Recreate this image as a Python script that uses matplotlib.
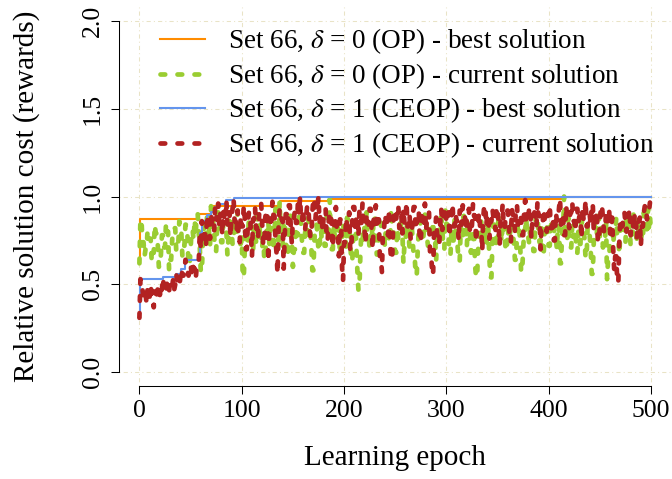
import numpy as np
import matplotlib
matplotlib.use('Agg')
from matplotlib import pyplot as plt

plt.rcParams['font.family'] = ['Liberation Serif', 'DejaVu Serif']
plt.rcParams['mathtext.fontset'] = 'stix'

# best solution so far: epoch where a new best was found and its value
op_best_epochs = [0, 1, 56, 70, 137, 186, 415, 500]
op_best_values = [0.62, 0.87, 0.90, 0.945, 0.975, 0.985, 1.0, 1.0]
ceop_best_epochs = [0, 1, 23, 36, 41, 45, 59, 61, 66, 70, 74, 77, 85, 92, 157, 500]
ceop_best_values = [0.31, 0.53, 0.54, 0.56, 0.59, 0.64, 0.79, 0.86, 0.895, 0.91,
                    0.94, 0.96, 0.98, 0.99, 1.0, 1.0]

# current solution per epoch (0..500), Set 66, delta = 0 (OP), 20 epochs per row
op_current = [
    0.62, 0.87, 0.87, 0.74, 0.74, 0.66, 0.70, 0.70, 0.81, 0.76, 0.76, 0.76, 0.63, 0.68, 0.68, 0.84, 0.79, 0.79, 0.72, 0.60,
    0.60, 0.67, 0.78, 0.78, 0.71, 0.71, 0.85, 0.80, 0.80, 0.58, 0.64, 0.64, 0.75, 0.82, 0.82, 0.82, 0.69, 0.73, 0.73, 0.86,
    0.79, 0.79, 0.66, 0.72, 0.72, 0.84, 0.84, 0.77, 0.61, 0.61, 0.70, 0.81, 0.81, 0.75, 0.87, 0.78, 0.90, 0.90, 0.79, 0.71,
    0.57, 0.57, 0.74, 0.83, 0.83, 0.76, 0.88, 0.88, 0.80, 0.72, 0.945, 0.86, 0.86, 0.78, 0.69, 0.69, 0.83, 0.91, 0.91, 0.79,
    0.74, 0.74, 0.85, 0.80, 0.80, 0.80, 0.67, 0.76, 0.89, 0.89, 0.82, 0.73, 0.73, 0.87, 0.78, 0.78, 0.92, 0.84, 0.84, 0.70,
    0.77, 0.54, 0.54, 0.71, 0.81, 0.81, 0.75, 0.88, 0.88, 0.79, 0.79, 0.68, 0.83, 0.83, 0.74, 0.90, 0.76, 0.76, 0.85, 0.71,
    0.71, 0.80, 0.64, 0.64, 0.77, 0.86, 0.86, 0.73, 0.82, 0.82, 0.82, 0.69, 0.78, 0.93, 0.84, 0.84, 0.75, 0.975, 0.80, 0.80,
    0.72, 0.86, 0.86, 0.77, 0.66, 0.66, 0.81, 0.89, 0.89, 0.74, 0.60, 0.70, 0.70, 0.83, 0.78, 0.78, 0.91, 0.85, 0.85, 0.73,
    0.68, 0.68, 0.80, 0.76, 0.76, 0.88, 0.82, 0.82, 0.71, 0.58, 0.58, 0.75, 0.84, 0.84, 0.79, 0.69, 0.69, 0.86, 0.77, 0.77,
    0.83, 0.72, 0.72, 0.90, 0.80, 0.80, 0.985, 0.78, 0.70, 0.70, 0.84, 0.76, 0.76, 0.87, 0.81, 0.81, 0.66, 0.74, 0.74, 0.85,
    0.79, 0.79, 0.71, 0.88, 0.83, 0.83, 0.75, 0.63, 0.63, 0.77, 0.86, 0.86, 0.72, 0.58, 0.47, 0.47, 0.69, 0.80, 0.80, 0.74,
    0.84, 0.84, 0.91, 0.78, 0.78, 0.70, 0.82, 0.82, 0.76, 0.89, 0.89, 0.73, 0.67, 0.67, 0.81, 0.85, 0.85, 0.75, 0.79, 0.79,
    0.71, 0.87, 0.87, 0.80, 0.74, 0.74, 0.93, 0.83, 0.83, 0.77, 0.68, 0.68, 0.82, 0.76, 0.76, 0.88, 0.79, 0.79, 0.62, 0.73,
    0.73, 0.85, 0.78, 0.78, 0.71, 0.84, 0.84, 0.76, 0.66, 0.66, 0.55, 0.55, 0.70, 0.81, 0.81, 0.87, 0.74, 0.74, 0.80, 0.90,
    0.90, 0.77, 0.72, 0.72, 0.83, 0.79, 0.79, 0.86, 0.75, 0.75, 0.64, 0.80, 0.80, 0.73, 0.88, 0.88, 0.82, 0.70, 0.70, 0.92,
    0.84, 0.84, 0.77, 0.67, 0.67, 0.81, 0.75, 0.75, 0.87, 0.79, 0.79, 0.71, 0.63, 0.63, 0.83, 0.76, 0.76, 0.89, 0.80, 0.80,
    0.72, 0.85, 0.85, 0.78, 0.68, 0.74, 0.74, 0.82, 0.61, 0.54, 0.54, 0.70, 0.79, 0.79, 0.86, 0.76, 0.76, 0.83, 0.73, 0.73,
    0.88, 0.81, 0.65, 0.54, 0.54, 0.75, 0.84, 0.84, 0.78, 0.71, 0.71, 0.91, 0.80, 0.80, 0.74, 0.86, 0.86, 0.77, 0.69, 0.69,
    0.82, 0.76, 0.76, 0.87, 0.80, 0.80, 0.72, 0.64, 0.64, 0.79, 0.85, 0.85, 0.74, 0.57, 0.57, 0.70, 0.81, 0.81, 0.88, 0.77,
    0.77, 0.73, 0.84, 0.84, 0.79, 0.69, 0.69, 0.86, 0.90, 0.90, 0.78, 0.74, 0.74, 0.82, 0.66, 0.66, 0.80, 0.85, 0.85, 0.75,
    0.72, 0.72, 0.87, 0.79, 0.79, 0.83, 0.76, 0.76, 0.70, 0.84, 0.84, 0.62, 0.62, 0.78, 0.81, 1.0, 0.82, 0.75, 0.75, 0.88,
    0.79, 0.71, 0.71, 0.84, 0.77, 0.77, 0.86, 0.68, 0.68, 0.80, 0.73, 0.73, 0.90, 0.81, 0.81, 0.76, 0.65, 0.65, 0.83, 0.78,
    0.78, 0.70, 0.56, 0.56, 0.74, 0.85, 0.85, 0.79, 0.89, 0.89, 0.76, 0.82, 0.82, 0.71, 0.75, 0.75, 0.86, 0.53, 0.64, 0.64,
    0.77, 0.84, 0.84, 0.73, 0.80, 0.80, 0.88, 0.76, 0.76, 0.67, 0.82, 0.82, 0.78, 0.87, 0.87, 0.74, 0.90, 0.81, 0.81, 0.85,
    0.72, 0.79, 0.79, 0.92, 0.84, 0.84, 0.76, 0.88, 0.80, 0.80, 0.83, 0.75, 0.75, 0.91, 0.86, 0.86, 0.78, 0.93, 0.82, 0.88,
    0.79,
]

# current solution per epoch (0..500), Set 66, delta = 1 (CEOP), 20 epochs per row
ceop_current = [
    0.31, 0.53, 0.47, 0.47, 0.42, 0.45, 0.45, 0.39, 0.48, 0.48, 0.43, 0.50, 0.44, 0.44, 0.37, 0.46, 0.46, 0.41, 0.49, 0.49,
    0.44, 0.50, 0.47, 0.54, 0.48, 0.48, 0.45, 0.51, 0.51, 0.46, 0.52, 0.49, 0.49, 0.53, 0.47, 0.50, 0.56, 0.52, 0.52, 0.49,
    0.54, 0.59, 0.55, 0.55, 0.57, 0.64, 0.58, 0.58, 0.55, 0.61, 0.61, 0.57, 0.62, 0.59, 0.59, 0.53, 0.60, 0.63, 0.63, 0.79,
    0.70, 0.86, 0.77, 0.77, 0.82, 0.71, 0.895, 0.84, 0.84, 0.76, 0.91, 0.85, 0.80, 0.80, 0.94, 0.87, 0.87, 0.96, 0.83, 0.90,
    0.90, 0.78, 0.92, 0.86, 0.86, 0.98, 0.84, 0.84, 0.91, 0.77, 0.88, 0.93, 0.99, 0.86, 0.86, 0.80, 0.92, 0.74, 0.74, 0.89,
    0.83, 0.83, 0.95, 0.88, 0.70, 0.70, 0.85, 0.91, 0.91, 0.79, 0.66, 0.87, 0.87, 0.94, 0.82, 0.82, 0.76, 0.90, 0.96, 0.96,
    0.84, 0.72, 0.72, 0.88, 0.92, 0.92, 0.63, 0.80, 0.86, 0.86, 0.97, 0.89, 0.89, 0.75, 0.68, 0.56, 0.83, 0.93, 0.93, 0.87,
    0.87, 0.59, 0.78, 0.90, 0.90, 0.84, 0.95, 0.95, 0.81, 0.73, 0.88, 0.88, 0.92, 0.85, 0.85, 0.98, 0.90, 1.0, 0.86, 0.86,
    0.93, 0.81, 0.81, 0.89, 0.95, 0.95, 0.84, 0.77, 0.77, 0.91, 0.99, 0.99, 0.87, 0.94, 0.94, 1.00, 0.85, 0.90, 0.90, 0.80,
    0.88, 0.88, 0.93, 0.75, 0.75, 0.86, 0.91, 0.91, 0.82, 0.71, 0.84, 0.84, 0.94, 0.79, 0.79, 0.66, 0.87, 0.87, 0.60, 0.52,
    0.74, 0.74, 0.88, 0.83, 0.83, 0.91, 0.69, 0.69, 0.86, 0.94, 0.94, 0.80, 0.89, 0.89, 0.77, 0.92, 0.85, 0.85, 0.96, 0.81,
    0.81, 0.73, 0.90, 0.90, 0.84, 0.93, 0.93, 0.79, 0.70, 0.88, 0.88, 0.95, 0.82, 0.82, 0.87, 0.65, 0.65, 0.57, 0.81, 0.81,
    0.90, 0.86, 0.86, 0.78, 0.93, 0.72, 0.64, 0.64, 0.84, 0.91, 0.91, 0.87, 0.95, 0.95, 0.82, 0.89, 0.89, 0.79, 0.93, 0.85,
    0.85, 0.97, 0.83, 0.83, 0.90, 0.76, 0.76, 0.88, 0.94, 0.94, 0.81, 0.86, 0.86, 0.92, 0.74, 0.74, 0.89, 0.84, 0.84, 0.96,
    0.80, 0.87, 0.87, 0.91, 0.68, 0.68, 0.58, 0.55, 0.82, 0.82, 0.88, 0.78, 0.78, 0.73, 0.85, 0.93, 0.81, 0.89, 0.89, 0.94,
    0.85, 0.85, 0.91, 0.77, 0.88, 0.88, 0.96, 0.83, 0.83, 0.90, 0.86, 0.86, 0.75, 0.92, 0.92, 0.84, 0.95, 0.89, 0.89, 0.81,
    0.87, 0.87, 0.93, 0.79, 0.79, 0.84, 0.96, 0.89, 0.89, 0.74, 0.86, 0.86, 0.91, 0.82, 0.82, 0.69, 0.88, 0.95, 0.95, 0.83,
    0.90, 0.90, 0.76, 0.86, 0.86, 0.93, 0.88, 0.88, 0.81, 0.94, 0.94, 0.84, 0.72, 0.87, 0.87, 0.96, 0.82, 0.82, 0.89, 0.92,
    0.92, 0.85, 0.74, 0.74, 0.93, 0.89, 0.89, 0.80, 0.95, 0.95, 0.84, 0.90, 0.90, 0.87, 0.78, 0.78, 0.92, 0.98, 0.85, 0.85,
    0.88, 0.94, 0.94, 0.76, 0.86, 0.86, 0.91, 0.83, 0.83, 0.97, 0.89, 0.89, 0.70, 0.84, 0.84, 0.93, 0.87, 0.87, 0.80, 0.90,
    0.90, 0.95, 0.82, 0.82, 0.88, 0.75, 0.75, 0.91, 0.86, 0.86, 0.93, 0.99, 0.84, 0.84, 0.89, 0.78, 0.78, 0.95, 0.88, 0.88,
    0.82, 0.91, 0.91, 0.97, 0.86, 0.86, 0.80, 0.93, 0.93, 0.85, 0.89, 0.89, 0.76, 0.94, 0.87, 0.87, 0.98, 0.83, 0.83, 0.90,
    0.90, 0.84, 0.96, 0.96, 0.81, 0.88, 0.88, 0.92, 0.74, 0.74, 0.85, 0.95, 0.95, 0.87, 0.80, 0.80, 0.91, 0.86, 0.86, 0.93,
    0.79, 0.79, 0.88, 0.70, 0.58, 0.66, 0.66, 0.51, 0.51, 0.75, 0.87, 0.87, 0.83, 0.91, 0.91, 0.85, 0.80, 0.89, 0.89, 0.93,
    0.78, 0.86, 0.86, 0.81, 0.90, 0.90, 0.76, 0.84, 0.84, 0.88, 0.72, 0.83, 0.83, 0.91, 0.95, 0.95, 0.87, 0.92, 0.92, 0.97,
    0.98,
]

labels = [r'Set 66, $\delta$ = 0 (OP) - best solution',
          r'Set 66, $\delta$ = 0 (OP) - current solution',
          r'Set 66, $\delta$ = 1 (CEOP) - best solution',
          r'Set 66, $\delta$ = 1 (CEOP) - current solution']
colors = ['#FF8C00', '#9ACD32', '#6495ED', '#B22222']

epochs = np.arange(len(op_current))
fs_tick = 18.5
fs_lab = 21
fs_leg = 19.5

fig = plt.figure(figsize=(6.72, 4.79), dpi=100)
ax = fig.add_axes([0.177, 0.1933, 0.8223, 0.7929])

dots = (0, (1.0, 2.6))
ax.step(op_best_epochs, op_best_values, where='post', color=colors[0], lw=1.5, label=labels[0])
ax.plot(epochs, op_current, color=colors[1], lw=3.4, linestyle=dots,
        dash_capstyle='round', label=labels[1])
ax.step(ceop_best_epochs, ceop_best_values, where='post', color=colors[2], lw=1.5, label=labels[2])
ax.plot(epochs, ceop_current, color=colors[3], lw=3.4, linestyle=dots,
        dash_capstyle='round', label=labels[3])

ax.set_xlim(-20, 520)
ax.set_ylim(-0.08, 2.08)
ax.set_xticks([0, 100, 200, 300, 400, 500])
ax.set_yticks([0.0, 0.5, 1.0, 1.5, 2.0])
ax.set_yticklabels(['0.0', '0.5', '1.0', '1.5', '2.0'], rotation=90, va='center')

ax.grid(True, color='#E9E3C6', lw=0.75, linestyle=(0, (1, 3, 4, 3)))
ax.set_axisbelow(True)

for s in ['top', 'right']:
    ax.spines[s].set_visible(False)
ax.spines['left'].set_bounds(0, 2)
ax.spines['bottom'].set_bounds(0, 500)
for s in ['left', 'bottom']:
    ax.spines[s].set_linewidth(0.75)
ax.tick_params(direction='out', length=5.8, width=0.75, labelsize=fs_tick, pad=4)
ax.tick_params(axis='y', pad=5)

ax.set_xlabel('Learning epoch', fontsize=fs_lab, va='center')
ax.xaxis.set_label_coords(0.5, -0.1885)
ax.set_ylabel('Relative solution cost (rewards)', fontsize=fs_lab, va='center')
ax.yaxis.set_label_coords(-0.1665, 0.5)

ax.legend(loc='upper left', bbox_to_anchor=(0.074, 0.947), frameon=False, fontsize=fs_leg,
          handlelength=1.67, handletextpad=0.85, labelspacing=0.175, borderaxespad=0,
          borderpad=0)

plt.savefig('out.png', dpi=100)
